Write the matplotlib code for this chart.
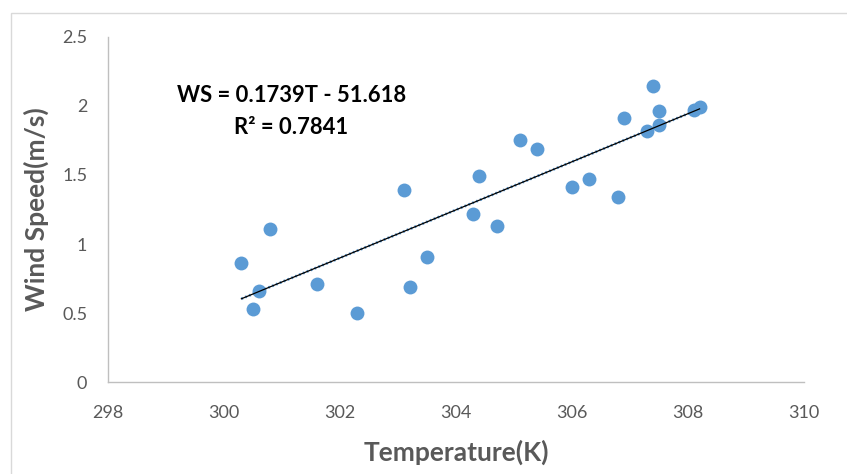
import matplotlib
matplotlib.use("Agg")
import matplotlib.pyplot as plt
from matplotlib.patches import Rectangle
import numpy as np

temperature = [300.3, 300.8, 300.6, 300.5, 301.6, 302.3, 303.1, 303.2, 303.5, 304.3,
               304.4, 304.7, 305.1, 305.4, 306.0, 306.3, 306.8, 306.9, 307.3, 307.4,
               307.5, 307.5, 308.1, 308.2]
wind_speed = [0.86, 1.11, 0.66, 0.53, 0.71, 0.50, 1.39, 0.69, 0.91, 1.22,
              1.49, 1.13, 1.75, 1.69, 1.41, 1.47, 1.34, 1.91, 1.82, 2.14,
              1.96, 1.86, 1.97, 1.99]
slope = 0.1739
intercept = -51.618
equation_text = "WS = 0.1739T - 51.618"
r2_text = "R² = 0.7841"
x_ticks = [298, 300, 302, 304, 306, 308, 310]
y_ticks = [0, 0.5, 1, 1.5, 2, 2.5]
y_tick_labels = ["0", "0.5", "1", "1.5", "2", "2.5"]

plt.rcParams['font.family'] = ['Lato', 'DejaVu Sans']

W, H = 847, 474
fig = plt.figure(figsize=(W / 100, H / 100), dpi=100)
fig.patch.set_facecolor("white")

# outer chart border
fig.patches.append(Rectangle((11 / W, -0.1), 1.2, (H - 13) / H + 0.1,
                             transform=fig.transFigure, fill=False,
                             edgecolor="#D9D9D9", linewidth=1.0))

ax = fig.add_axes([108 / W, 1 - 382.3 / H, (804 - 108) / W, (382.3 - 36.7) / H])
ax.set_xlim(298, 310)
ax.set_ylim(0, 2.5)
ax.set_xticks(x_ticks)
ax.set_xticklabels([str(t) for t in x_ticks])
ax.set_yticks(y_ticks)
ax.set_yticklabels(y_tick_labels)
for s in ["top", "right"]:
    ax.spines[s].set_visible(False)
for s in ["left", "bottom"]:
    ax.spines[s].set_color("#BFBFBF")
    ax.spines[s].set_linewidth(1.0)
ax.tick_params(axis="both", length=0, labelsize=13, labelcolor="#595959")
ax.tick_params(axis="y", pad=15)
ax.tick_params(axis="x", pad=16)

ax.scatter(temperature, wind_speed, s=100, color="#5B9BD5", zorder=3, linewidths=0)

tx = np.array([min(temperature), max(temperature)])
ty = slope * tx + intercept
ax.plot(tx, ty, color="#5B9BD5", linewidth=2.0, linestyle=(0, (0.6, 0.9)), zorder=4)
ax.plot(tx, ty, color="black", linewidth=0.9, zorder=5)

fig.text(291.7 / W, 1 - 95 / H, equation_text, ha="center", va="center",
         fontsize=15.8, fontweight="bold", color="black")
fig.text(291 / W, 1 - 127 / H, r2_text, ha="center", va="center",
         fontsize=15.8, fontweight="bold", color="black")

fig.text(456 / W, 1 - 452 / H, "Temperature(K)", ha="center", va="center",
         fontsize=19, fontweight="bold", color="#595959")
fig.text(36 / W, 1 - 209 / H, "Wind Speed(m/s)", ha="center", va="center",
         rotation=90, fontsize=19, fontweight="bold", color="#595959")

fig.savefig("out.png", dpi=100)
